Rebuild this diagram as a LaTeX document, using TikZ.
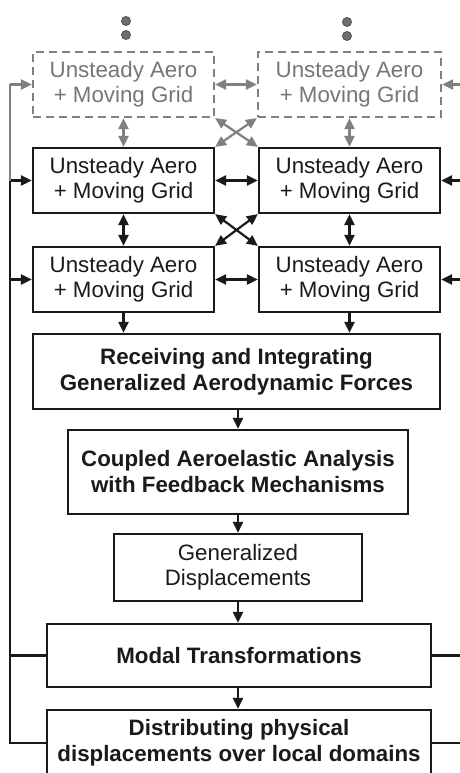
\documentclass[tikz,border=0pt]{standalone}
\usepackage{fontspec}
\setmainfont{Liberation Sans}
\usetikzlibrary{arrows.meta,calc}
\definecolor{ink}{HTML}{1A1A1A}
\definecolor{ghost}{HTML}{808080}
\definecolor{ghosttext}{HTML}{767676}
\definecolor{dotfill}{HTML}{6E6E6E}
\tikzset{
  box/.style={draw=ink,line width=2.2pt,fill=white,inner sep=0pt,align=center,
    text=ink,font=\fontsize{22.3}{25}\selectfont},
  boldbox/.style={box,font=\fontsize{22.3}{26}\selectfont\bfseries},
  ghostbox/.style={box,draw=ghost,dash pattern=on 8pt off 5pt,text=ghosttext},
  wire/.style={draw=ink,line width=2.2pt},
  gwire/.style={draw=ghost,line width=2.2pt},
  arr/.style={wire,-{Triangle[length=11pt,width=10pt]}},
  darr/.style={wire,{Triangle[length=11pt,width=10pt]}-{Triangle[length=11pt,width=10pt]}},
  garr/.style={gwire,-{Triangle[length=11pt,width=10pt]}},
  gdarr/.style={gwire,{Triangle[length=11pt,width=10pt]}-{Triangle[length=11pt,width=10pt]}},
  dotmark/.style={circle,fill=dotfill,draw=ghost!60!black,line width=0.8pt,minimum size=9pt,inner sep=0pt},
}
\begin{document}
\begin{tikzpicture}[x=1pt,y=-1pt]
\useasboundingbox[fill=white] (0,0) rectangle (460,773);

% dots
\node[dotmark] (d1) at (126,21) {};
\node[dotmark] (d2) at (126,35) {};
\node[dotmark] (d3) at (347,22) {};
\node[dotmark] (d4) at (347,36) {};

% dashed (ghost) row
\node[ghostbox,minimum width=181pt,minimum height=65pt] (D1) at (123.5,84.5) {Unsteady Aero\\+ Moving Grid};
\node[ghostbox,minimum width=183pt,minimum height=65pt] (D2) at (349.5,84.5) {Unsteady Aero\\+ Moving Grid};

% solid rows
\node[box,minimum width=181pt,minimum height=65pt] (A1) at (123.5,180.5) {Unsteady Aero\\+ Moving Grid};
\node[box,minimum width=181pt,minimum height=65pt] (A2) at (349.5,180.5) {Unsteady Aero\\+ Moving Grid};
\node[box,minimum width=181pt,minimum height=65pt] (B1) at (123.5,279.5) {Unsteady Aero\\+ Moving Grid};
\node[box,minimum width=181pt,minimum height=65pt] (B2) at (349.5,279.5) {Unsteady Aero\\+ Moving Grid};

\node[boldbox,minimum width=407pt,minimum height=75pt] (R) at (236.5,371.5) {Receiving and Integrating\\Generalized Aerodynamic Forces};
\node[boldbox,minimum width=340pt,minimum height=84pt] (C) at (238,472) {Coupled Aeroelastic Analysis\\with Feedback Mechanisms};
\node[box,minimum width=248pt,minimum height=67pt] (G) at (238,567.5) {Generalized\\Displacements};
\node[boldbox,minimum width=384pt,minimum height=63pt] (M) at (239,655.5) {Modal Transformations};
\node[boldbox,minimum width=384pt,minimum height=66pt] (S) at (239,743) {Distributing physical\\displacements over local domains};

% coordinates for feedback rails
\coordinate (lx) at (10,0);
\coordinate (rx) at (464,0);

% ghost connections
\draw[gdarr] (D1.east) -- (D2.west);
\draw[gdarr] (D1.south) -- (A1.north);
\draw[gdarr] (D2.south) -- (A2.north);
\draw[gdarr] (D1.south east) -- (A2.north west);
\draw[gdarr] (D2.south west) -- (A1.north east);

% solid connections
\draw[darr] (A1.east) -- (A2.west);
\draw[darr] (B1.east) -- (B2.west);
\draw[darr] (A1.south) -- (B1.north);
\draw[darr] (A2.south) -- (B2.north);
\draw[darr] (A1.south east) -- (B2.north west);
\draw[darr] (A2.south west) -- (B1.north east);

\draw[arr] (B1.south) -- (B1.south |- R.north);
\draw[arr] (B2.south) -- (B2.south |- R.north);
\draw[arr] (R.south -| C.north) -- (C.north);
\draw[arr] (C.south) -- (G.north);
\draw[arr] (G.south) -- (G.south |- M.north);
\draw[arr] (M.south -| G.south) -- (G.south |- S.north);

% left feedback rail
\draw[wire] (S.west) -- (S.west -| lx) -- (A1.west -| lx);
\draw[wire] (M.west) -- (M.west -| lx);
\draw[arr] (B1.west -| lx) -- (B1.west);
\draw[arr] (A1.west -| lx) -- (A1.west);
\draw[gwire] (A1.west -| lx) -- (D1.west -| lx);
\draw[garr] (D1.west -| lx) -- (D1.west);

% right feedback rail
\draw[wire] (S.east) -- (S.east -| rx) -- (A2.east -| rx);
\draw[wire] (M.east) -- (M.east -| rx);
\draw[arr] (B2.east -| rx) -- (B2.east);
\draw[arr] (A2.east -| rx) -- (A2.east);
\draw[gwire] (A2.east -| rx) -- (D2.east -| rx);
\draw[garr] (D2.east -| rx) -- (D2.east);
\end{tikzpicture}
\end{document}
